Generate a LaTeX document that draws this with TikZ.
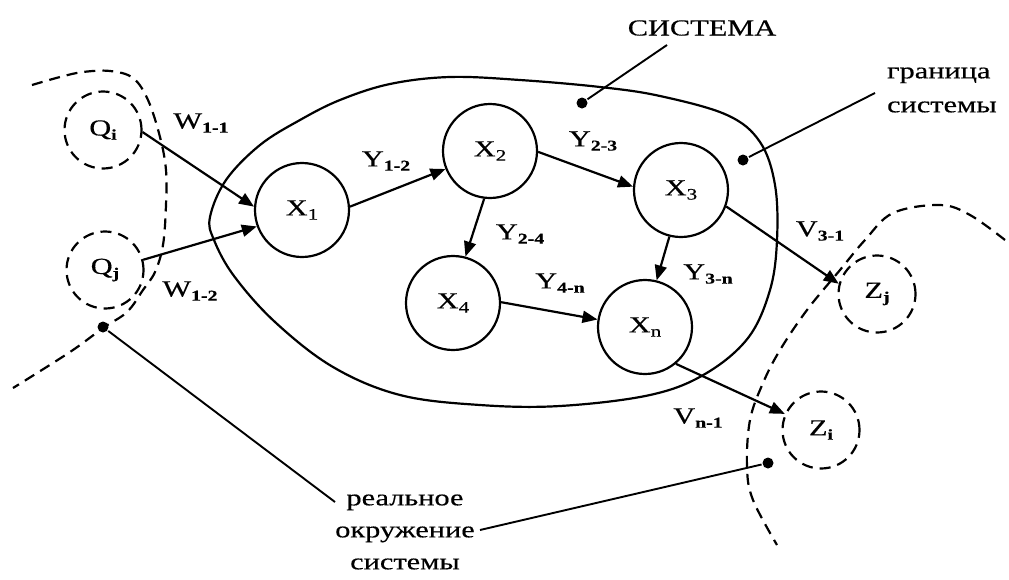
\documentclass[tikz,border=0pt]{standalone}
\usepackage{fontspec}
\setmainfont{Liberation Serif}[FakeStretch=1.32,FakeBold=0.4]
\usetikzlibrary{arrows.meta}
\newcommand\sbx[1]{\raisebox{-0.4ex}{\fontsize{15}{15}\selectfont\bfseries #1}}
\newcommand\sbn[1]{\raisebox{-0.4ex}{\fontsize{16}{16}\selectfont #1}}
\begin{document}
\begin{tikzpicture}[x=1pt,y=-1pt,
  font=\fontsize{23}{34}\selectfont,
  line width=2.2pt,
  circ/.style={draw,circle,minimum size=94pt,inner sep=0pt},
  env/.style={draw,circle,minimum size=77pt,inner sep=0pt,dash pattern=on 11pt off 7pt},
  dashline/.style={dash pattern=on 11pt off 7pt},
  arr/.style={-{Triangle[length=15pt,width=12pt]}},
  dot/.style={circle,fill,minimum size=11pt,inner sep=0pt},
  leader/.style={line width=1.9pt},
  lbl/.style={inner sep=0pt}]
\useasboundingbox (0,0) rectangle (1009,579);

% system boundary
\draw plot[smooth cycle,tension=0.6] coordinates{
 (210,217) (226,180) (260,145) (300,120) (340,100) (390,84) (450,77) (520,80)
 (600,87) (660,96) (727,115) (760,142) (775,185) (777,240) (770,290) (748,338)
 (705,374) (650,395) (560,406) (480,405) (400,395) (333,367) (275,322) (234,276) (214,240)};

% environment boundaries
\draw[dashline] plot[smooth,tension=0.6] coordinates{
 (32,85) (60,77) (83,72) (110,71) (133,78) (148,100) (160,137) (166,170)
 (166,205) (163,245) (155,272) (143,290) (127,312) (103,328) (70,352) (13,388)};
\draw[dashline] plot[smooth,tension=0.6] coordinates{
 (1005,240) (970,215) (940,205) (893,213) (865,240) (840,270) (807,310)
 (780,350) (763,383) (750,420) (747,467) (753,500) (777,545)};

% nodes
\node[circ] (x1) at (302,210) {X\sbn{1}};
\node[circ] (x2) at (490,151) {X\sbn{2}};
\node[circ] (x4) at (453,303) {X\sbn{4}};
\node[circ] (x3) at (681,190) {X\sbn{3}};
\node[circ] (xn) at (645,327) {X\sbn{n}};
\node[env] (qi) at (103,130) {Q\sbx{i}};
\node[env] (qj) at (105,270) {Q\sbx{j}};
\node[env] (zj) at (877,294) {Z\sbx{j}};
\node[env] (zi) at (821,430) {Z\sbx{i}};

% arrows
\draw[arr] (qi.-3) -- (x1.176);
\draw[arr] (qj.15) -- (x1.200);
\draw[arr] (x1.4) -- (x2.202);
\draw[arr] (x2.263) -- (x4.75);
\draw[arr] (x4.1) -- (xn.171);
\draw[arr] (x2.-1) -- (x3.176);
\draw[arr] (x3.256) -- (xn.76);
\draw[arr] (x3.-20) -- (zj.165);
\draw[arr] (xn.-50) -- (zi.156);

% arrow labels
\node[lbl] (w11) at (201,123) {W\sbx{1-1}};
\node[lbl] (w12) at (190,291) {W\sbx{1-2}};
\node[lbl] (y12) at (386,161) {Y\sbx{1-2}};
\node[lbl] (y24) at (520,234) {Y\sbx{2-4}};
\node[lbl] (y4n) at (560,283) {Y\sbx{4-n}};
\node[lbl] (y23) at (593,141) {Y\sbx{2-3}};
\node[lbl] (y3n) at (708,274) {Y\sbx{3-n}};
\node[lbl] (v31) at (820,231) {V\sbx{3-1}};
\node[lbl] (vn1) at (698,418) {V\sbx{n-1}};

% annotation texts
\node[lbl] (sys) at (702,28) {СИСТЕМА};
\node[lbl,align=left,anchor=west] (gr) at (886,90) {граница\\системы};
\node[lbl,align=center,font=\fontsize{23}{32}\selectfont] (env) at (405,532) {реальное\\окружение\\системы};

% dots and leader lines
\node[dot] (d1) at (582,103) {};
\node[dot] (d2) at (743,160) {};
\node[dot] (d3) at (103,327) {};
\node[dot] (d4) at (768,463) {};
\coordinate (s1) at (667,45);
\coordinate (s2) at (875,93);
\coordinate (s3) at (335,502);
\coordinate (s4) at (480,530);
\draw[leader] (s1) -- (d1);
\draw[leader] (s2) -- (d2);
\draw[leader] (d3) -- (s3);
\draw[leader] (d4) -- (s4);
\end{tikzpicture}
\end{document}
